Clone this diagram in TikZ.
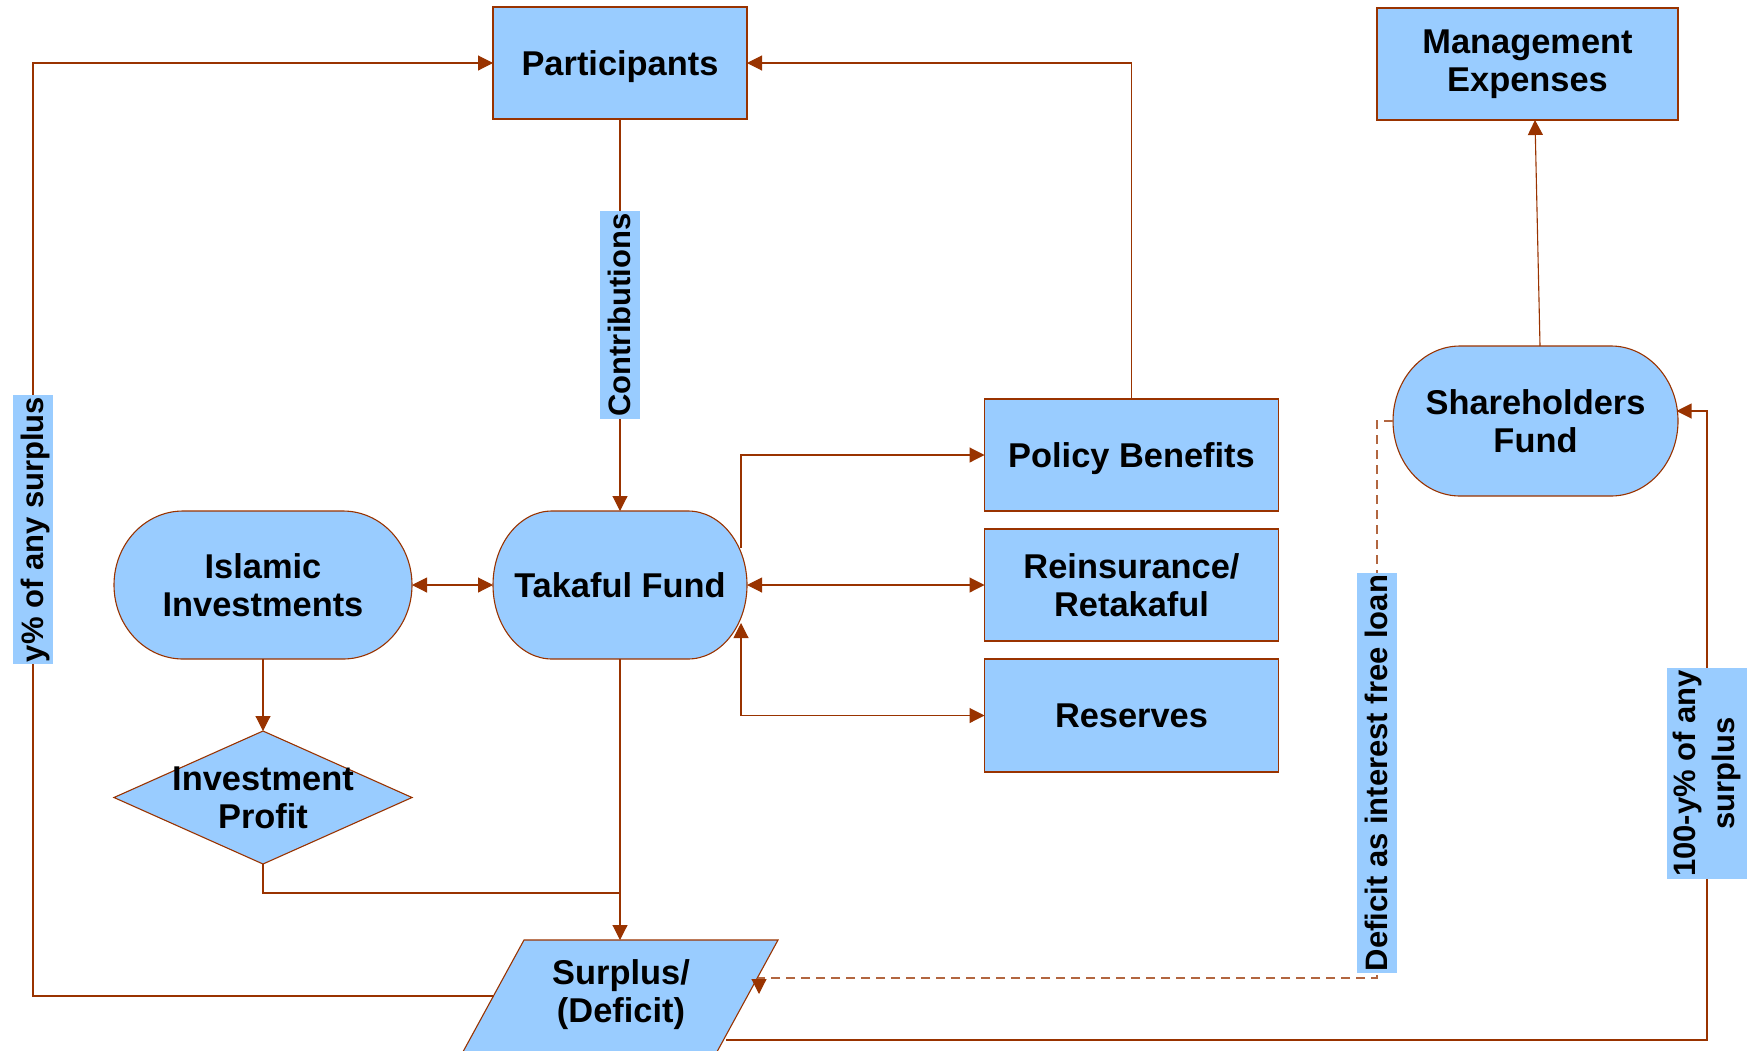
\documentclass[tikz,border=0pt]{standalone}
\usepackage{fontspec}
\setmainfont{Liberation Sans}
\usetikzlibrary{arrows.meta,calc}

\definecolor{fillblue}{HTML}{99CCFF}
\definecolor{linebrown}{HTML}{993300}

\newcommand{\dgmfont}{\fontsize{17.2pt}{19pt}\selectfont\bfseries}
\newcommand{\dgmlabelfont}{\fontsize{15.5pt}{19.5pt}\selectfont\bfseries}

% terminator shape: flat top and bottom, half-ellipse ends
% #1 name, #2 cx, #3 cy, #4 width, #5 height, #6 end radius, #7 text
\newcommand{\stadiumnode}[7]{%
  \pgfmathsetmacro{\stL}{#2-#4/2+#6}%
  \pgfmathsetmacro{\stR}{#2+#4/2-#6}%
  \pgfmathsetmacro{\stT}{#3-#5/2}%
  \pgfmathsetmacro{\stB}{#3+#5/2}%
  \pgfmathsetmacro{\stRX}{#6*0.5}%
  \pgfmathsetmacro{\stRY}{#5*0.25}%
  \path[shapeline] (\stL,\stT) -- (\stR,\stT)
     arc[start angle=90,end angle=-90,x radius=\stRX pt,y radius=\stRY pt]
     -- (\stL,\stB)
     arc[start angle=270,end angle=90,x radius=\stRX pt,y radius=\stRY pt] -- cycle;
  \node[textonly, minimum width=#4*0.5pt, minimum height=#5*0.5pt] (#1) at (#2,#3) {#7};
}

\tikzset{
  shapeline/.style={draw=linebrown, fill=fillblue, line width=0.55pt},
  textonly/.style={inner sep=0pt, outer sep=0pt, align=center, font=\dgmfont},
  box/.style={shapeline, textonly},
  oneline/.style={text height=15.6pt, text depth=3.6pt},
  lnk/.style={draw=linebrown, line width=0.55pt},
  arr/.style={lnk, -{Triangle[length=7.5pt,width=7.5pt]}},
  darr/.style={lnk, {Triangle[length=7.5pt,width=7.5pt]}-{Triangle[length=7.5pt,width=7.5pt]}},
  dlnk/.style={draw=linebrown!75, line width=0.55pt, dash pattern=on 4.5pt off 3pt,
     -{Triangle[length=7.5pt,width=7.5pt,fill=linebrown,color=linebrown]}},
  lbl/.style={fill=fillblue, rotate=90, font=\dgmlabelfont, inner xsep=1pt,
     inner ysep=1.4pt, text height=14pt, text depth=3.4pt},
  lbltwo/.style={fill=fillblue, rotate=90, font=\dgmlabelfont, align=center,
     inner xsep=1pt, inner ysep=0pt, minimum height=40pt}
}

\begin{document}
\begin{tikzpicture}[x=0.5pt,y=-0.5pt]
\useasboundingbox (0,0) rectangle (1749,1050);

% rectangular boxes
\node[box, oneline, minimum width=127pt, minimum height=56pt] (pa) at (620,63) {Participants};
\node[box, minimum width=150.5pt, minimum height=56pt] (me) at (1527.5,64) {\raisebox{-1pt}{\parbox{140pt}{\centering Management\\Expenses}}};
\node[box, oneline, minimum width=147pt, minimum height=56pt] (pb) at (1131.5,455) {Policy Benefits};
\node[box, minimum width=147pt, minimum height=56pt] (rr) at (1131.5,585) {Reinsurance/\\Retakaful};
\node[box, oneline, minimum width=147pt, minimum height=56.5pt] (rs) at (1131.5,715.5) {Reserves};

% terminator shapes
\stadiumnode{ii}{263}{585}{298}{148}{69}{Islamic\\Investments}
\stadiumnode{tf}{620}{585}{254}{148}{59}{Takaful Fund}
\stadiumnode{sf}{1535.5}{421}{285}{150}{67}{Shareholders\\Fund}

% decision diamond
\path[shapeline] (114,797.5) -- (263,731) -- (412,797.5) -- (263,864) -- cycle;
\node[textonly, minimum width=149pt, minimum height=66.5pt] (ip) at (263,797.5) {Investment\\Profit};

% data parallelogram
\path[shapeline] (524,940) -- (778,940) -- (713.6,1058) -- (459.6,1058) -- cycle;
\node[textonly] (sd) at (621,995) {Surplus/\\(Deficit)};
\coordinate (sdtop) at (620,940);
\coordinate (sdleft) at (493.5,996);
\coordinate (sdbr) at (726,1040);
\coordinate (merge) at (tf.south |- 0,893);

% connectors
\draw[arr] (pa.south) -- (tf.north) node[lbl, midway] (lc) {Contributions};
\draw[arr] (pb.north) |- (pa.east);
\draw[arr] (sdleft) -- (33,996) |- (pa.west) node[lbl, pos=0.25] (ly) {y\% of any surplus};
\draw[darr] (ii.east) -- (tf.west);
\draw[darr] (tf.east) -- (rr.west);
\draw[arr] ($(tf.east)+(-6,-37)$) |- (pb.west);
\draw[darr] ($(tf.east)+(-6,38)$) |- (rs.west);
\draw[arr] (ii.south) -- (ip.north);
\draw[lnk] (ip.south) |- (merge);
\draw[arr] (tf.south) -- (sdtop);
\draw[arr] ($(sf.north)+(4.5,0)$) -- ($(me.south)+(7.5,0)$);
\draw[arr] (sdbr) -| (1707,411) -- ($(sf.east)+(-1.5,-10)$);
\draw[dlnk] (sf.west) -- (1377,421) -- (1377,978) -- (759,978) -- (759,994);

% labels on the right-hand connectors
\node[lbl] (ld) at (1377,773) {Deficit as interest free loan};
\node[lbltwo] (lb) at (1707,773.5) {100-y\% of any\\surplus};

\end{tikzpicture}
\end{document}
